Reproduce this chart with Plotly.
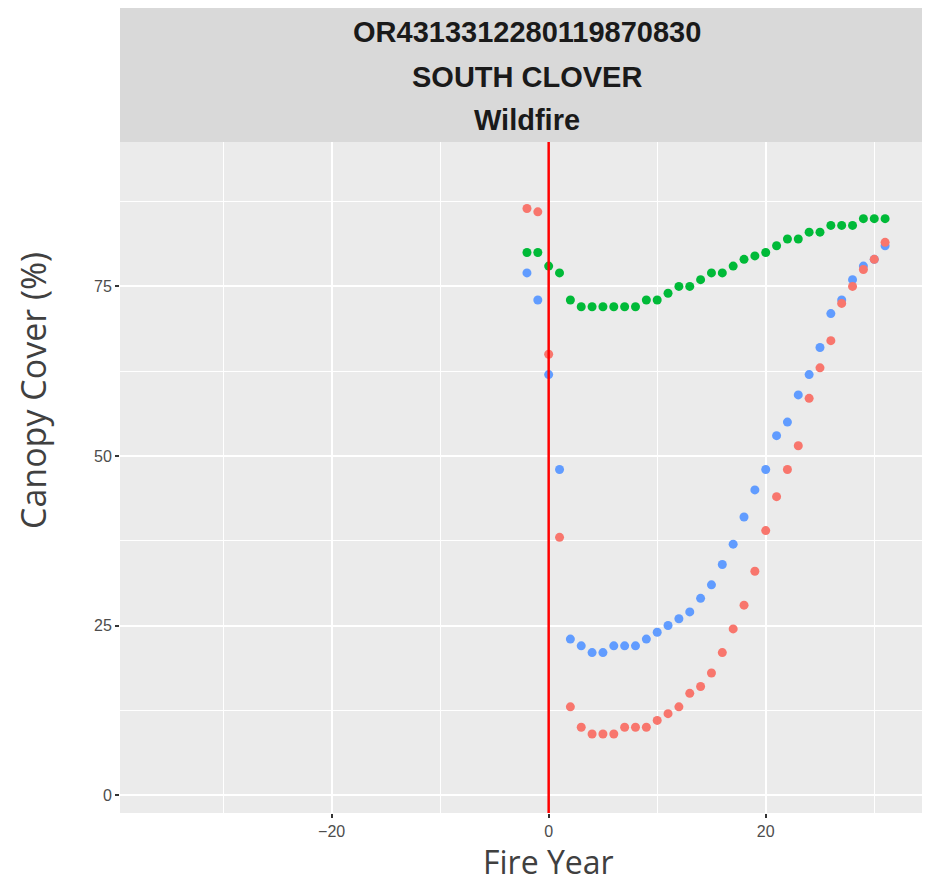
import plotly.graph_objects as go

years = list(range(-2, 32))
# blue series
blue = [77, 73, 62, 48, 23, 22, 21, 21, 22, 22, 22, 23, 24, 25, 26, 27, 29, 31, 34, 37,
        41, 45, 48, 53, 55, 59, 62, 66, 71, 73, 76, 78, 79, 81]
# green series
green = [80, 80, 78, 77, 73, 72, 72, 72, 72, 72, 72, 73, 73, 74, 75, 75, 76, 77, 77, 78,
         79, 79.5, 80, 81, 82, 82, 83, 83, 84, 84, 84, 85, 85, 85]
# red series
red = [86.5, 86, 65, 38, 13, 10, 9, 9, 9, 10, 10, 10, 11, 12, 13, 15, 16, 18, 21, 24.5,
       28, 33, 39, 44, 48, 51.5, 58.5, 63, 67, 72.5, 75, 77.5, 79, 81.5]

strip_lines = ["OR4313312280119870830", "SOUTH CLOVER", "Wildfire"]
x_ticks = [-20, 0, 20]
x_tick_text = ["\u221220", "0", "20"]
y_ticks = [0, 25, 50, 75]
x_title = "Fire Year"
y_title = "Canopy Cover (%)"

L, R, T, B = 120, 3, 142, 71
W, H = 925, 884
PLOT_W = W - L - R
PLOT_H = H - T - B

def px_x(px):
    return (px - L) / PLOT_W

def px_y(py):
    return (H - B - py) / PLOT_H

fig = go.Figure()
for vals, col in [(blue, "#619CFF"), (green, "#00BA38"), (red, "#F8766D")]:
    fig.add_trace(go.Scatter(x=years, y=vals, mode="markers",
                             marker=dict(color=col, size=9, line=dict(width=0)),
                             showlegend=False))

fig.add_shape(type="line", xref="x", yref="paper", x0=0, x1=0, y0=0, y1=1,
              line=dict(color="#FF0000", width=2.5))

# strip
fig.add_shape(type="rect", xref="paper", yref="paper", x0=0, x1=1, y0=1, y1=px_y(8),
              fillcolor="#D9D9D9", line=dict(width=0), layer="below")
ys_px = [32, 77, 120]
for t, py in zip(strip_lines, ys_px):
    fig.add_annotation(text="<b>%s</b>" % t, xref="paper", yref="paper", x=px_x(527),
                       y=px_y(py), showarrow=False, yanchor="middle", xanchor="center",
                       font=dict(family="Liberation Sans", size=29, color="#1A1A1A"))

# axis titles
fig.add_annotation(text=x_title, xref="paper", yref="paper", x=px_x(548), y=px_y(884),
                   showarrow=False, xanchor="center", yanchor="bottom", borderpad=0,
                   font=dict(family="Open Sans", size=32, color="#404040"))
fig.add_annotation(text=y_title, xref="paper", yref="paper", x=px_x(33), y=px_y(391),
                   showarrow=False, xanchor="center", yanchor="middle", textangle=-90,
                   font=dict(family="Open Sans", size=34, color="#404040"))

fig.update_layout(
    width=W, height=H,
    margin=dict(l=L, r=R, t=T, b=B),
    paper_bgcolor="white", plot_bgcolor="#EBEBEB",
    font=dict(family="Liberation Sans"),
    xaxis=dict(range=[-39.5, 34.4], tickvals=x_ticks, ticktext=x_tick_text,
               showgrid=True, gridcolor="white", gridwidth=2, zeroline=False,
               ticks="outside", ticklen=4, tickcolor="#333333", tickwidth=1.5,
               tickfont=dict(size=16, color="#4D4D4D"),
               minor=dict(tickvals=[-30, -10, 10, 30], showgrid=True, gridcolor="white", gridwidth=1, ticks="")),
    yaxis=dict(range=[-2.65, 96.3], tickvals=y_ticks,
               showgrid=True, gridcolor="white", gridwidth=2, zeroline=False,
               ticks="outside", ticklen=4, tickcolor="#333333", tickwidth=1.5,
               tickfont=dict(size=16, color="#4D4D4D"),
               minor=dict(tickvals=[12.5, 37.5, 62.5, 87.5], showgrid=True, gridcolor="white", gridwidth=1, ticks="")),
)

fig.write_html("out.html", config={"displayModeBar": False},
               post_script="document.body.style.margin='0';document.body.style.padding='0';")
